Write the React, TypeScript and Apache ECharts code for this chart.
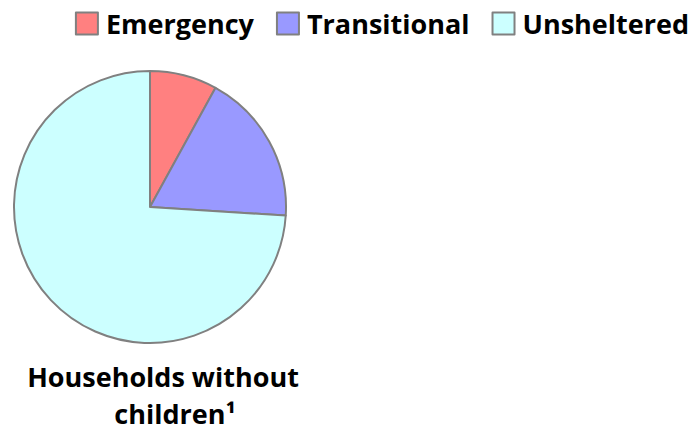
import React, { useEffect, useRef } from "react";
import * as echarts from "echarts";

const categories = ["Emergency", "Transitional", "Unsheltered"];
const values = [8, 18, 74];
const colors = ["#FF8080", "#9999FF", "#CCFFFF"];
const titleLines = ["Households without", "children¹"];

export default function App() {
  const ref = useRef<HTMLDivElement>(null);
  useEffect(() => {
    document.body.style.margin = "0";
    const chart = echarts.init(ref.current!, null, { renderer: "svg" });
    const font = "'Open Sans'";
    chart.setOption({
      animation: false,
      legend: {
        right: 1,
        top: 5,
        itemWidth: 22,
        itemHeight: 22,
        itemGap: 22,
        icon: "rect",
        data: categories,
        textStyle: {
          fontFamily: font,
          fontWeight: "bold",
          fontSize: 27,
          color: "#000",
          padding: [0, 0, 0, 3],
        },
        itemStyle: { borderColor: "#808080", borderWidth: 2 },
      },
      graphic: [
        {
          type: "text",
          x: 163,
          y: 376,
          style: {
            text: titleLines[0],
            align: "center",
            verticalAlign: "middle",
            fontFamily: font,
            fontWeight: "bold",
            fontSize: 27,
            fill: "#000",
          },
        },
        {
          type: "text",
          x: 175,
          y: 413,
          style: {
            text: titleLines[1],
            align: "center",
            verticalAlign: "middle",
            fontFamily: font,
            fontWeight: "bold",
            fontSize: 27,
            fill: "#000",
          },
        },
      ],
      series: [
        {
          type: "pie",
          center: [150, 207],
          radius: 136,
          startAngle: 90,
          clockwise: true,
          label: { show: false },
          labelLine: { show: false },
          emphasis: { disabled: true },
          itemStyle: { borderColor: "#808080", borderWidth: 2 },
          data: categories.map((c, i) => ({
            name: c,
            value: values[i],
            itemStyle: { color: colors[i] },
          })),
        },
      ],
    });
    return () => chart.dispose();
  }, []);
  return <div ref={ref} style={{ width: 695, height: 437 }} />;
}
